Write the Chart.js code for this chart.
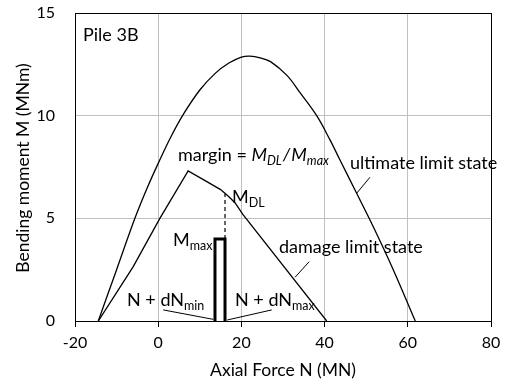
<!DOCTYPE html>
<html>
<head>
<meta charset="utf-8">
<script src="https://cdn.jsdelivr.net/npm/chart.js@4.4.1/dist/chart.umd.min.js"></script>
<style>
  html, body { margin: 0; padding: 0; background: #fff; }
  #wrap { width: 506px; height: 387px; }
</style>
</head>
<body>
<div id="wrap"><canvas id="c" width="506" height="387"></canvas></div>
<script>
// ---- data ----
const xTicks = [-20, 0, 20, 40, 60, 80];
const yTicks = [0, 5, 10, 15];

const ulsN = [-14.4, -10, -5.6, -2.5, 0.4, 3, 6, 10, 13.7, 16.9, 20, 22, 24.5, 27, 31, 34, 38.1, 41.3, 43.7, 47.7, 51.7, 56.5, 61.8];
const ulsM = [0, 2.5, 5.0, 6.55, 7.85, 8.95, 10.05, 11.25, 12.06, 12.55, 12.85, 12.9, 12.82, 12.63, 11.95, 11.15, 10.0, 8.82, 7.84, 6.22, 4.59, 2.5, 0];

const dlsN = [-14.4, -6.0, 0.4, 7.2, 12, 15, 17, 18.5, 20.3, 40.5];
const dlsM = [0, 2.65, 5.0, 7.31, 6.75, 6.4, 6.05, 5.75, 5.2, 0];

const barN = [13.65, 13.65, 16.06, 16.06];
const barM = [0, 3.99, 3.99, 0];

const dashN = [16.06, 16.06];
const dashM = [3.99, 6.2];

const leadMinN = [1.2, 13.25];   const leadMinM = [0.54, 0.08];
const leadMaxN = [16.6, 27.3];   const leadMaxM = [0.05, 0.54];
const leadDlsN = [32.9, 36.3];   const leadDlsM = [2.13, 2.89];
const leadUlsN = [47.7, 50.9];   const leadUlsM = [6.22, 7.0];

const pts = (xs, ys) => xs.map((x, i) => ({ x: x, y: ys[i] }));

const FONT = 'Lato, "Open Sans", sans-serif';

function drawRich(ctx, parts, x, y) {
  let cx = x;
  for (const p of parts) {
    const size = p.sub ? 12.5 : 18;
    ctx.font = (p.italic ? 'italic ' : '') + size + 'px ' + FONT;
    ctx.textBaseline = 'middle';
    ctx.textAlign = 'left';
    ctx.fillStyle = '#000';
    ctx.fillText(p.t, cx, y + (p.sub ? 6 : 0));
    cx += ctx.measureText(p.t).width + (p.gap || 0);
  }
}

const annot = {
  id: 'annot',
  beforeDatasetsDraw(chart) {
    const ctx = chart.ctx, a = chart.chartArea;
    ctx.save();
    ctx.strokeStyle = '#000';
    ctx.lineWidth = 1;
    ctx.strokeRect(Math.round(a.left) + 0.5, Math.round(a.top) + 0.5, Math.round(a.right - a.left), Math.round(a.bottom - a.top));
    ctx.restore();
  },
  afterDraw(chart) {
    const ctx = chart.ctx;
    ctx.save();
    drawRich(ctx, [{ t: 'Pile 3B' }], 83, 35);
    drawRich(ctx, [{ t: 'margin = ' }, { t: 'M', italic: true }, { t: 'DL', italic: true, sub: true, gap: 1 }, { t: '/', italic: true, gap: 1 }, { t: 'M', italic: true }, { t: 'max', italic: true, sub: true }], 178, 155);
    drawRich(ctx, [{ t: 'ultimate limit state' }], 350, 163);
    drawRich(ctx, [{ t: 'M' }, { t: 'DL', sub: true }], 232, 197);
    drawRich(ctx, [{ t: 'M' }, { t: 'max', sub: true }], 173, 240);
    drawRich(ctx, [{ t: 'damage limit state' }], 279, 247);
    drawRich(ctx, [{ t: 'N + dN' }, { t: 'min', sub: true }], 127, 300);
    drawRich(ctx, [{ t: 'N + dN' }, { t: 'max', sub: true }], 235, 300);

    ctx.font = '17.5px ' + FONT;
    ctx.fillStyle = '#000';
    ctx.textAlign = 'center';
    ctx.textBaseline = 'middle';
    ctx.fillText('Axial Force N (MN)', 283, 370);
    ctx.translate(23, 168);
    ctx.rotate(-Math.PI / 2);
    ctx.fillText('Bending moment M (MNm)', 0, 0);
    ctx.restore();
  }
};

const lineDs = (data, opts) => Object.assign({
  data: data, showLine: true, pointRadius: 0, borderColor: '#000', borderWidth: 1.3,
  fill: false, tension: 0
}, opts || {});

new Chart(document.getElementById('c'), {
  type: 'scatter',
  data: {
    datasets: [
      lineDs(pts(ulsN, ulsM), { tension: 0.35 }),
      lineDs(pts(dlsN, dlsM)),
      lineDs(pts(barN, barM), { borderWidth: 3, borderJoinStyle: 'miter' }),
      lineDs(pts(dashN, dashM), { borderDash: [4, 3], borderWidth: 1.2 }),
      lineDs(pts(leadMinN, leadMinM), { borderWidth: 1 }),
      lineDs(pts(leadMaxN, leadMaxM), { borderWidth: 1 }),
      lineDs(pts(leadDlsN, leadDlsM), { borderWidth: 1 }),
      lineDs(pts(leadUlsN, leadUlsM), { borderWidth: 1 })
    ]
  },
  options: {
    responsive: false,
    animation: false,
    layout: { padding: { left: 0, top: 13, right: 15, bottom: 0 } },
    plugins: { legend: { display: false }, tooltip: { enabled: false } },
    scales: {
      x: {
        type: 'linear', min: -20, max: 80,
        afterBuildTicks: s => { s.ticks = xTicks.map(v => ({ value: v })); },
        afterFit: s => { s.height = 66; s.paddingLeft = 0; s.paddingRight = 0; },
        ticks: { color: '#000', font: { family: FONT, size: 16 }, padding: 6, maxRotation: 0, autoSkip: false },
        grid: { color: '#bfbfbf', lineWidth: 1, tickColor: '#000', tickLength: 6, drawTicks: true },
        border: { color: '#000', width: 1 }
      },
      y: {
        type: 'linear', min: 0, max: 15,
        afterBuildTicks: s => { s.ticks = yTicks.map(v => ({ value: v })); },
        afterFit: s => { s.width = 75; s.paddingTop = 0; s.paddingBottom = 0; },
        ticks: { color: '#000', font: { family: FONT, size: 16 }, padding: 20 },
        grid: { color: '#bfbfbf', lineWidth: 1, drawTicks: false },
        border: { color: '#000', width: 1 }
      }
    }
  },
  plugins: [annot]
});
</script>
</body>
</html>
